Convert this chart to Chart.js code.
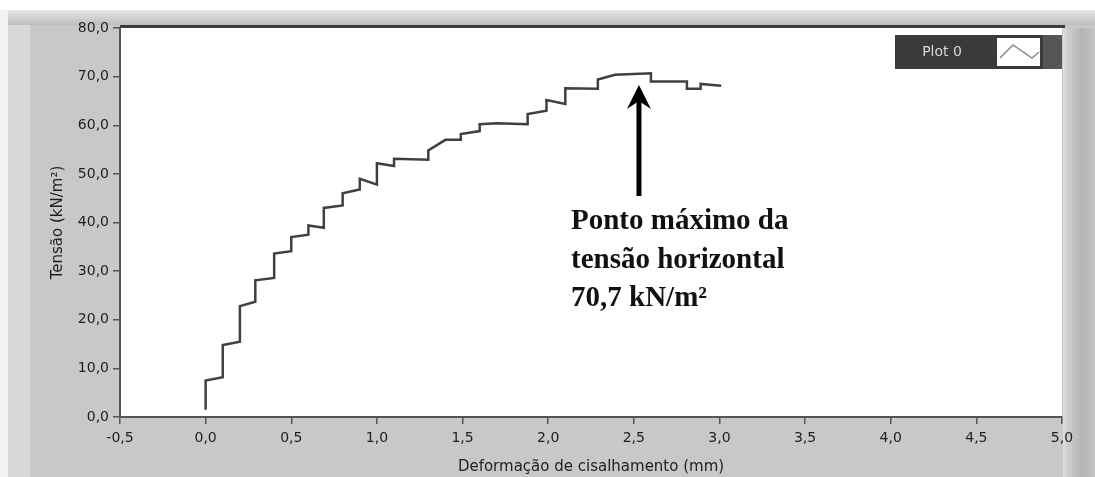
<!DOCTYPE html>
<html>
<head>
<meta charset="utf-8">
<script src="https://cdn.jsdelivr.net/npm/chart.js@4/dist/chart.umd.min.js"></script>
<style>
  html, body { margin: 0; padding: 0; background: #ffffff; }
  #obal { width: 1095px; height: 477px; }
</style>
</head>
<body>
<div id="obal"><canvas id="graf" width="1095" height="477"></canvas></div>
<script>
// dados (deformação em mm, tensão em kN/m²)
var deformacao = [0.00, 0.00, 0.10, 0.10, 0.20, 0.20, 0.29, 0.29, 0.40, 0.40, 0.50, 0.50,
  0.60, 0.60, 0.69, 0.69, 0.80, 0.80, 0.90, 0.90, 1.00, 1.00, 1.10, 1.10, 1.30, 1.30,
  1.40, 1.49, 1.49, 1.60, 1.60, 1.70, 1.88, 1.88, 1.99, 1.99, 2.10, 2.10, 2.29, 2.29,
  2.39, 2.60, 2.60, 2.81, 2.81, 2.89, 2.89, 3.01];
var tensao = [1.5, 7.5, 8.2, 14.8, 15.5, 22.8, 23.7, 28.1, 28.6, 33.6, 34.1, 37.0,
  37.5, 39.4, 38.9, 43.0, 43.5, 46.0, 46.8, 49.0, 47.8, 52.2, 51.6, 53.1, 52.9, 54.8,
  57.0, 57.0, 58.2, 58.8, 60.2, 60.4, 60.2, 62.3, 63.0, 65.2, 64.4, 67.6, 67.5, 69.4,
  70.4, 70.7, 69.0, 69.0, 67.5, 67.5, 68.5, 68.1];
var nomeSerie = "Plot 0";
var textoNota = ["Ponto máximo da", "tensão horizontal", "70,7 kN/m²"];
var tituloX = "Deformação de cisalhamento (mm)";
var tituloY = "Tensão (kN/m²)";

var pontos = [];
for (var i = 0; i < deformacao.length; i++) {
  pontos.push({ x: deformacao[i], y: tensao[i] });
}

function virgula(v) {
  return v.toFixed(1).replace(".", ",");
}

// fundo cinza estilo LabVIEW
var fundo = {
  id: "fundo",
  beforeDraw: function (chart) {
    var c = chart.ctx;
    var a = chart.chartArea;
    c.save();
    c.fillStyle = "#c8c8c8";
    c.fillRect(0, 0, chart.width, chart.height);
    c.fillStyle = "#d8d8d8";
    c.fillRect(0, 0, 30, chart.height);
    c.fillStyle = "#f2f2f2";
    c.fillRect(0, 0, 8, chart.height);
    // faixa de cima
    c.fillStyle = "#ffffff";
    c.fillRect(0, 0, chart.width, 10);
    var g = c.createLinearGradient(0, 10, 0, 25);
    g.addColorStop(0, "#e6e6e6");
    g.addColorStop(1, "#bdbdbd");
    c.fillStyle = g;
    c.fillRect(8, 10, chart.width - 8, 15);
    c.fillStyle = "#3c3c3c";
    c.fillRect(a.left, 25, a.right - a.left + 3, 3);
    // lado direito
    var g2 = c.createLinearGradient(a.right, 0, chart.width, 0);
    g2.addColorStop(0, "#e4e4e4");
    g2.addColorStop(0.15, "#d0d0d0");
    g2.addColorStop(0.6, "#b4b4b4");
    g2.addColorStop(1, "#c6c6c6");
    c.fillStyle = g2;
    c.fillRect(a.right + 1, 28, chart.width - a.right, chart.height - 28);
    // área do gráfico
    c.fillStyle = "#ffffff";
    c.fillRect(a.left, a.top, a.right - a.left, a.bottom - a.top);
    c.restore();
  },
  afterDraw: function (chart) {
    var c = chart.ctx;
    var a = chart.chartArea;
    c.save();
    // legenda Plot 0
    c.fillStyle = "#3a3a3a";
    c.fillRect(895, 35, a.right - 895, 34);
    c.fillStyle = "#555555";
    c.fillRect(1043, 35, a.right - 1043, 34);
    c.fillStyle = "#d8d8d8";
    c.font = "14px 'DejaVu Sans', sans-serif";
    c.textAlign = "center";
    c.textBaseline = "middle";
    c.fillText(nomeSerie, 942, 52);
    c.fillStyle = "#ffffff";
    c.fillRect(997, 38, 43, 28);
    c.strokeStyle = "#8a8a8a";
    c.lineWidth = 1.5;
    c.beginPath();
    c.moveTo(1000, 58);
    c.lineTo(1013, 45);
    c.lineTo(1032, 58);
    c.lineTo(1039, 52);
    c.stroke();

    // seta do ponto máximo
    var xs = chart.scales.x.getPixelForValue(2.53);
    c.fillStyle = "#000000";
    c.fillRect(xs - 2.5, 100, 5, 96);
    c.beginPath();
    c.moveTo(xs, 85);
    c.lineTo(xs - 12, 109);
    c.lineTo(xs, 101);
    c.lineTo(xs + 12, 109);
    c.closePath();
    c.fill();

    // texto da nota
    c.fillStyle = "#111111";
    c.font = "bold 29px 'Liberation Serif', 'Times New Roman', serif";
    c.textAlign = "left";
    c.textBaseline = "alphabetic";
    for (var k = 0; k < textoNota.length; k++) {
      c.fillText(textoNota[k], 571, 229 + k * 38.5);
    }
    c.restore();
  }
};

var ctx = document.getElementById("graf").getContext("2d");
var grafico = new Chart(ctx, {
  type: "scatter",
  data: {
    datasets: [
      {
        label: nomeSerie,
        data: pontos,
        showLine: true,
        borderColor: "#404040",
        borderWidth: 2.5,
        pointRadius: 0,
        tension: 0
      }
    ]
  },
  options: {
    responsive: false,
    animation: false,
    layout: { padding: { top: 28, right: 33, left: 0, bottom: 0 } },
    plugins: {
      legend: { display: false },
      tooltip: { enabled: false }
    },
    scales: {
      x: {
        type: "linear",
        min: -0.5,
        max: 5,
        afterFit: function (s) { s.height = 60; },
        ticks: {
          stepSize: 0.5,
          color: "#1e1e1e",
          font: { size: 14, family: "'DejaVu Sans', sans-serif" },
          padding: 6,
          maxRotation: 0,
          callback: function (v) { return virgula(v); }
        },
        grid: { drawOnChartArea: false, tickLength: 7, color: "#555555", lineWidth: 1.5 },
        border: { color: "#555555", width: 2 },
        title: {
          display: true,
          text: tituloX,
          color: "#1e1e1e",
          font: { size: 15, family: "'DejaVu Sans', sans-serif" },
          padding: { top: 0, bottom: 1 }
        }
      },
      y: {
        min: 0,
        max: 80,
        afterFit: function (s) { s.width = 120; },
        ticks: {
          stepSize: 10,
          color: "#1e1e1e",
          font: { size: 14, family: "'DejaVu Sans', sans-serif" },
          padding: 4,
          callback: function (v) { return virgula(v); }
        },
        grid: { drawOnChartArea: false, tickLength: 7, color: "#555555", lineWidth: 1.5 },
        border: { color: "#555555", width: 2 },
        title: {
          display: true,
          text: tituloY,
          color: "#1e1e1e",
          font: { size: 15, family: "'DejaVu Sans', sans-serif" },
          padding: { top: 49, bottom: 0 }
        }
      }
    }
  },
  plugins: [fundo]
});
</script>
</body>
</html>
